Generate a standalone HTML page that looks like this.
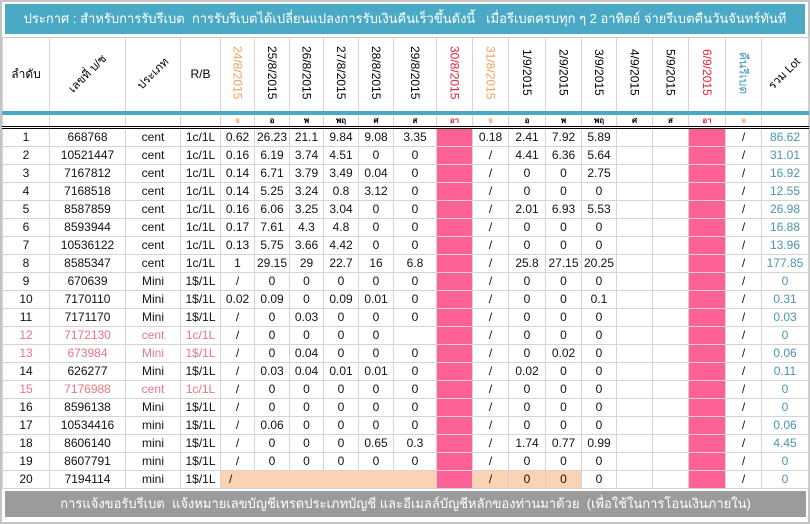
<!DOCTYPE html>
<html><head><meta charset="utf-8">
<style>
*{margin:0;padding:0;box-sizing:border-box}
body{width:810px;height:524px;background:#fff;font-family:"Liberation Sans",Tahoma,sans-serif;position:relative;overflow:hidden}
.frame{position:absolute;left:0;top:0;width:810px;height:524px;border:2px solid #c4c4c4;background:#fff}
.banner{position:absolute;left:5px;top:4px;width:800px;height:30px;background:#4aaac6;color:#fff;font-size:13px;line-height:30px;text-align:center;white-space:nowrap}
table{position:absolute;left:2px;top:37px;border-collapse:collapse;table-layout:fixed;font-size:12px}
td{border:1px solid #d4d4d4;text-align:center;padding:0;overflow:hidden;white-space:nowrap}
tr.h td{height:75px;border-top:1px solid #c8c8c8;position:relative}
tr.d td{height:15px;font-size:8px;border-top:4px solid #4aaac6;border-bottom:3px double #000;line-height:9px;font-weight:bold}
tr.r td{height:18px;line-height:17px;color:#111}
.v{writing-mode:vertical-rl;display:inline-block;font-size:12px;line-height:14px}
.dg{display:inline-block;transform:rotate(-45deg);font-size:11.5px}
.o{color:#f0a060}.rd{color:#e0203a}.tl{color:#3f9ab5}
.pk{background:#fd6196}.pc{background:#fbd3b2}
tr.r td.tot{color:#4a95b0}
.red td.i{color:#ea7585}
.foot{position:absolute;left:5px;top:491px;width:801px;height:26px;background:#9b9b9b;color:#fff;font-size:13px;line-height:26px;text-align:center;white-space:nowrap}
</style></head><body>
<div class="frame"></div>
<div class="banner">ประกาศ : สำหรับการรับรีเบต &nbsp;การรับรีเบตได้เปลี่ยนแปลงการรับเงินคืนเร็วขึ้นดังนี้ &nbsp; เมื่อรีเบตครบทุก ๆ 2 อาทิตย์ จ่ายรีเบตคืนวันจันทร์ทันที</div>
<table>
<colgroup>
<col style="width:47px"><col style="width:76px"><col style="width:55px"><col style="width:40px"><col style="width:34px"><col style="width:35px"><col style="width:34px"><col style="width:35px"><col style="width:35px"><col style="width:43px"><col style="width:36px"><col style="width:36px"><col style="width:37px"><col style="width:36px"><col style="width:35px"><col style="width:36px"><col style="width:36px"><col style="width:37px"><col style="width:36px"><col style="width:47px">
</colgroup>
<tr class="h">
<td>ลำดับ</td><td><span class="dg">เลขที่ บ/ช</span></td><td><span class="dg">ประเภท</span></td><td>R/B</td>
<td><span class="v o">24/8/2015</span></td><td><span class="v">25/8/2015</span></td><td><span class="v">26/8/2015</span></td><td><span class="v">27/8/2015</span></td><td><span class="v">28/8/2015</span></td><td><span class="v">29/8/2015</span></td><td><span class="v rd">30/8/2015</span></td><td><span class="v o">31/8/2015</span></td><td><span class="v">1/9/2015</span></td><td><span class="v">2/9/2015</span></td><td><span class="v">3/9/2015</span></td><td><span class="v">4/9/2015</span></td><td><span class="v">5/9/2015</span></td><td><span class="v rd">6/9/2015</span></td><td><span class="v tl">คืนรีเบต</span></td><td><span class="dg">รวม Lot</span></td>
</tr>
<tr class="d"><td></td><td></td><td></td><td></td><td class="o">จ</td><td>อ</td><td>พ</td><td>พฤ</td><td>ศ</td><td>ส</td><td class="rd">อา</td><td class="o">จ</td><td>อ</td><td>พ</td><td>พฤ</td><td>ศ</td><td>ส</td><td class="rd">อา</td><td class="o">จ</td><td></td></tr>
<tr class="r"><td>1</td><td>668768</td><td>cent</td><td>1c/1L</td><td>0.62</td><td>26.23</td><td>21.1</td><td>9.84</td><td>9.08</td><td>3.35</td><td class="pk"></td><td>0.18</td><td>2.41</td><td>7.92</td><td>5.89</td><td></td><td></td><td class="pk"></td><td>/</td><td class="tot">86.62</td></tr>
<tr class="r"><td>2</td><td>10521447</td><td>cent</td><td>1c/1L</td><td>0.16</td><td>6.19</td><td>3.74</td><td>4.51</td><td>0</td><td>0</td><td class="pk"></td><td>/</td><td>4.41</td><td>6.36</td><td>5.64</td><td></td><td></td><td class="pk"></td><td>/</td><td class="tot">31.01</td></tr>
<tr class="r"><td>3</td><td>7167812</td><td>cent</td><td>1c/1L</td><td>0.14</td><td>6.71</td><td>3.79</td><td>3.49</td><td>0.04</td><td>0</td><td class="pk"></td><td>/</td><td>0</td><td>0</td><td>2.75</td><td></td><td></td><td class="pk"></td><td>/</td><td class="tot">16.92</td></tr>
<tr class="r"><td>4</td><td>7168518</td><td>cent</td><td>1c/1L</td><td>0.14</td><td>5.25</td><td>3.24</td><td>0.8</td><td>3.12</td><td>0</td><td class="pk"></td><td>/</td><td>0</td><td>0</td><td>0</td><td></td><td></td><td class="pk"></td><td>/</td><td class="tot">12.55</td></tr>
<tr class="r"><td>5</td><td>8587859</td><td>cent</td><td>1c/1L</td><td>0.16</td><td>6.06</td><td>3.25</td><td>3.04</td><td>0</td><td>0</td><td class="pk"></td><td>/</td><td>2.01</td><td>6.93</td><td>5.53</td><td></td><td></td><td class="pk"></td><td>/</td><td class="tot">26.98</td></tr>
<tr class="r"><td>6</td><td>8593944</td><td>cent</td><td>1c/1L</td><td>0.17</td><td>7.61</td><td>4.3</td><td>4.8</td><td>0</td><td>0</td><td class="pk"></td><td>/</td><td>0</td><td>0</td><td>0</td><td></td><td></td><td class="pk"></td><td>/</td><td class="tot">16.88</td></tr>
<tr class="r"><td>7</td><td>10536122</td><td>cent</td><td>1c/1L</td><td>0.13</td><td>5.75</td><td>3.66</td><td>4.42</td><td>0</td><td>0</td><td class="pk"></td><td>/</td><td>0</td><td>0</td><td>0</td><td></td><td></td><td class="pk"></td><td>/</td><td class="tot">13.96</td></tr>
<tr class="r"><td>8</td><td>8585347</td><td>cent</td><td>1c/1L</td><td>1</td><td>29.15</td><td>29</td><td>22.7</td><td>16</td><td>6.8</td><td class="pk"></td><td>/</td><td>25.8</td><td>27.15</td><td>20.25</td><td></td><td></td><td class="pk"></td><td>/</td><td class="tot">177.85</td></tr>
<tr class="r"><td>9</td><td>670639</td><td>Mini</td><td>1$/1L</td><td>/</td><td>0</td><td>0</td><td>0</td><td>0</td><td>0</td><td class="pk"></td><td>/</td><td>0</td><td>0</td><td>0</td><td></td><td></td><td class="pk"></td><td>/</td><td class="tot">0</td></tr>
<tr class="r"><td>10</td><td>7170110</td><td>Mini</td><td>1$/1L</td><td>0.02</td><td>0.09</td><td>0</td><td>0.09</td><td>0.01</td><td>0</td><td class="pk"></td><td>/</td><td>0</td><td>0</td><td>0.1</td><td></td><td></td><td class="pk"></td><td>/</td><td class="tot">0.31</td></tr>
<tr class="r"><td>11</td><td>7171170</td><td>Mini</td><td>1$/1L</td><td>/</td><td>0</td><td>0.03</td><td>0</td><td>0</td><td>0</td><td class="pk"></td><td>/</td><td>0</td><td>0</td><td>0</td><td></td><td></td><td class="pk"></td><td>/</td><td class="tot">0.03</td></tr>
<tr class="r red"><td class="i">12</td><td class="i">7172130</td><td class="i">cent</td><td class="i">1c/1L</td><td>/</td><td>0</td><td>0</td><td>0</td><td>0</td><td></td><td class="pk"></td><td>/</td><td>0</td><td>0</td><td>0</td><td></td><td></td><td class="pk"></td><td>/</td><td class="tot">0</td></tr>
<tr class="r red"><td class="i">13</td><td class="i">673984</td><td class="i">Mini</td><td class="i">1$/1L</td><td>/</td><td>0</td><td>0.04</td><td>0</td><td>0</td><td>0</td><td class="pk"></td><td>/</td><td>0</td><td>0.02</td><td>0</td><td></td><td></td><td class="pk"></td><td>/</td><td class="tot">0.06</td></tr>
<tr class="r"><td>14</td><td>626277</td><td>Mini</td><td>1$/1L</td><td>/</td><td>0.03</td><td>0.04</td><td>0.01</td><td>0.01</td><td>0</td><td class="pk"></td><td>/</td><td>0.02</td><td>0</td><td>0</td><td></td><td></td><td class="pk"></td><td>/</td><td class="tot">0.11</td></tr>
<tr class="r red"><td class="i">15</td><td class="i">7176988</td><td class="i">cent</td><td class="i">1c/1L</td><td>/</td><td>0</td><td>0</td><td>0</td><td>0</td><td>0</td><td class="pk"></td><td>/</td><td>0</td><td>0</td><td>0</td><td></td><td></td><td class="pk"></td><td>/</td><td class="tot">0</td></tr>
<tr class="r"><td>16</td><td>8596138</td><td>Mini</td><td>1$/1L</td><td>/</td><td>0</td><td>0</td><td>0</td><td>0</td><td>0</td><td class="pk"></td><td>/</td><td>0</td><td>0</td><td>0</td><td></td><td></td><td class="pk"></td><td>/</td><td class="tot">0</td></tr>
<tr class="r"><td>17</td><td>10534416</td><td>mini</td><td>1$/1L</td><td>/</td><td>0.06</td><td>0</td><td>0</td><td>0</td><td>0</td><td class="pk"></td><td>/</td><td>0</td><td>0</td><td>0</td><td></td><td></td><td class="pk"></td><td>/</td><td class="tot">0.06</td></tr>
<tr class="r"><td>18</td><td>8606140</td><td>mini</td><td>1$/1L</td><td>/</td><td>0</td><td>0</td><td>0</td><td>0.65</td><td>0.3</td><td class="pk"></td><td>/</td><td>1.74</td><td>0.77</td><td>0.99</td><td></td><td></td><td class="pk"></td><td>/</td><td class="tot">4.45</td></tr>
<tr class="r"><td>19</td><td>8607791</td><td>mini</td><td>1$/1L</td><td>/</td><td>0</td><td>0</td><td>0</td><td>0</td><td>0</td><td class="pk"></td><td>/</td><td>0</td><td>0</td><td>0</td><td></td><td></td><td class="pk"></td><td>/</td><td class="tot">0</td></tr>
<tr class="r"><td>20</td><td>7194114</td><td>mini</td><td>1$/1L</td><td class="pc" style="text-align:left;padding-left:8px;border-right:none">/</td><td class="pc" style="border-left:none;border-right:none"></td><td class="pc" style="border-left:none;border-right:none"></td><td class="pc" style="border-left:none;border-right:none"></td><td class="pc" style="border-left:none;border-right:none"></td><td class="pc" style="border-left:none"></td><td class="pk"></td><td class="pc">/</td><td class="pc">0</td><td class="pc">0</td><td>0</td><td></td><td></td><td class="pk"></td><td>/</td><td class="tot">0</td></tr>
</table>
<div class="foot">การแจ้งขอรับรีเบต &nbsp;แจ้งหมายเลขบัญชีเทรดประเภทบัญชี และอีเมลล์บัญชีหลักของท่านมาด้วย &nbsp;(เพื่อใช้ในการโอนเงินภายใน)</div>
</body></html>
